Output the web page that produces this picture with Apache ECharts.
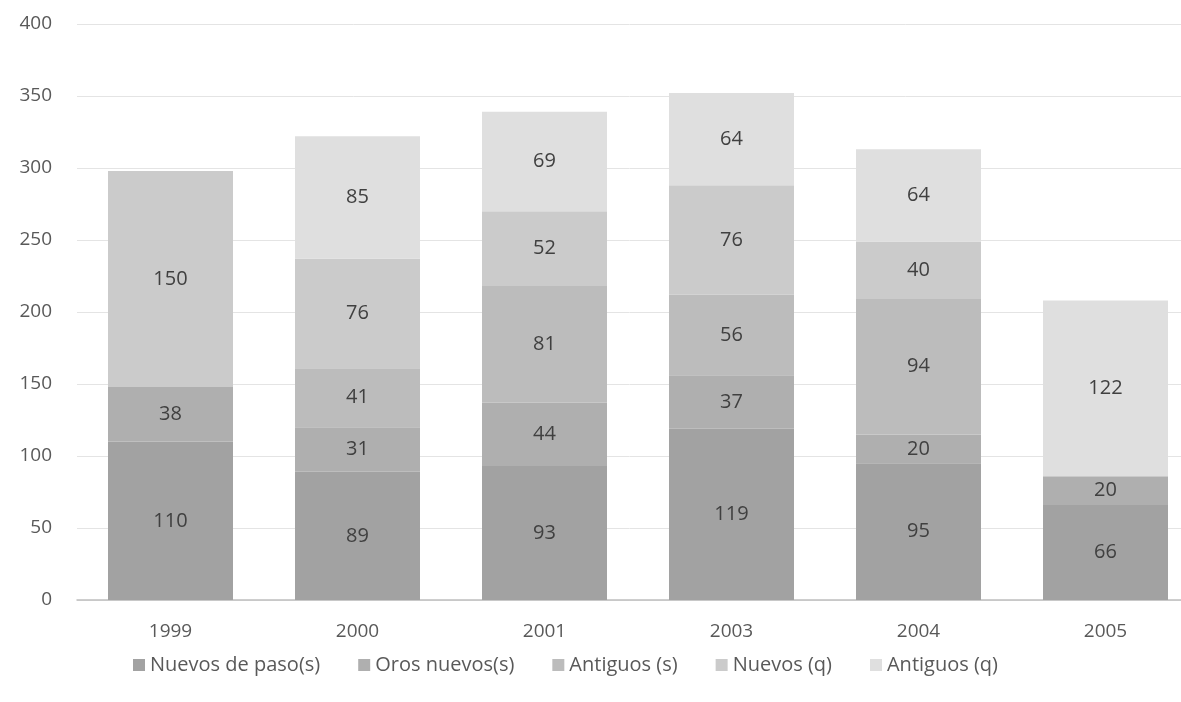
<!DOCTYPE html>
<html>
<head>
<meta charset="utf-8">
<script src="https://cdn.jsdelivr.net/npm/echarts@6/dist/echarts.min.js"></script>
<style>
html,body{margin:0;padding:0;background:#fff;overflow:hidden;}
#chart{width:1181px;height:702px;}
</style>
</head>
<body>
<div id="chart"></div>
<script>
const categories = ['1999', '2000', '2001', '2003', '2004', '2005'];
const seriesNames = ['Nuevos de paso(s)', 'Oros nuevos(s)', 'Antiguos (s)', 'Nuevos (q)', 'Antiguos (q)'];
const nuevosDePaso = [110, 89, 93, 119, 95, 66];
const orosNuevos = [38, 31, 44, 37, 20, 20];
const antiguosS = [null, 41, 81, 56, 94, null];
const nuevosQ = [150, 76, 52, 76, 40, null];
const antiguosQ = [null, 85, 69, 64, 64, 122];
const yTicks = { min: 0, max: 400, interval: 50 };

const values = [nuevosDePaso, orosNuevos, antiguosS, nuevosQ, antiguosQ];
const colors = ['#a2a2a2', '#afafaf', '#bcbcbc', '#cbcbcb', '#dfdfdf'];
const font = '"Open Sans", "Noto Sans", sans-serif';

const chart = echarts.init(document.getElementById('chart'));
chart.setOption({
  animation: false,
  textStyle: { fontFamily: font },
  grid: { left: 77, top: 24, width: 1122, height: 576, containLabel: false, outerBoundsMode: 'none' },
  legend: {
    top: 650,
    left: 128,
    itemWidth: 12,
    itemHeight: 12,
    itemGap: 38,
    icon: 'rect',
    textStyle: { fontSize: 20, color: '#595959', fontFamily: font },
    data: seriesNames
  },
  xAxis: {
    type: 'category',
    data: categories,
    axisLine: { lineStyle: { color: '#bfbfbf', width: 1.5 } },
    axisTick: { show: false },
    axisLabel: { fontSize: 19, color: '#595959', margin: 22, fontFamily: font }
  },
  yAxis: {
    type: 'value',
    min: yTicks.min,
    max: yTicks.max,
    interval: yTicks.interval,
    axisLine: { show: false },
    axisTick: { show: false },
    splitLine: { lineStyle: { color: '#e4e4e4', width: 1 } },
    axisLabel: { fontSize: 19, color: '#595959', margin: 25, fontFamily: font }
  },
  series: seriesNames.map((name, i) => ({
    name: name,
    type: 'bar',
    stack: 'total',
    barWidth: 125,
    data: values[i],
    itemStyle: { color: colors[i] },
    label: {
      show: true,
      position: 'inside',
      fontSize: 20,
      color: '#404040',
      fontFamily: font
    }
  }))
});
</script>
</body>
</html>
